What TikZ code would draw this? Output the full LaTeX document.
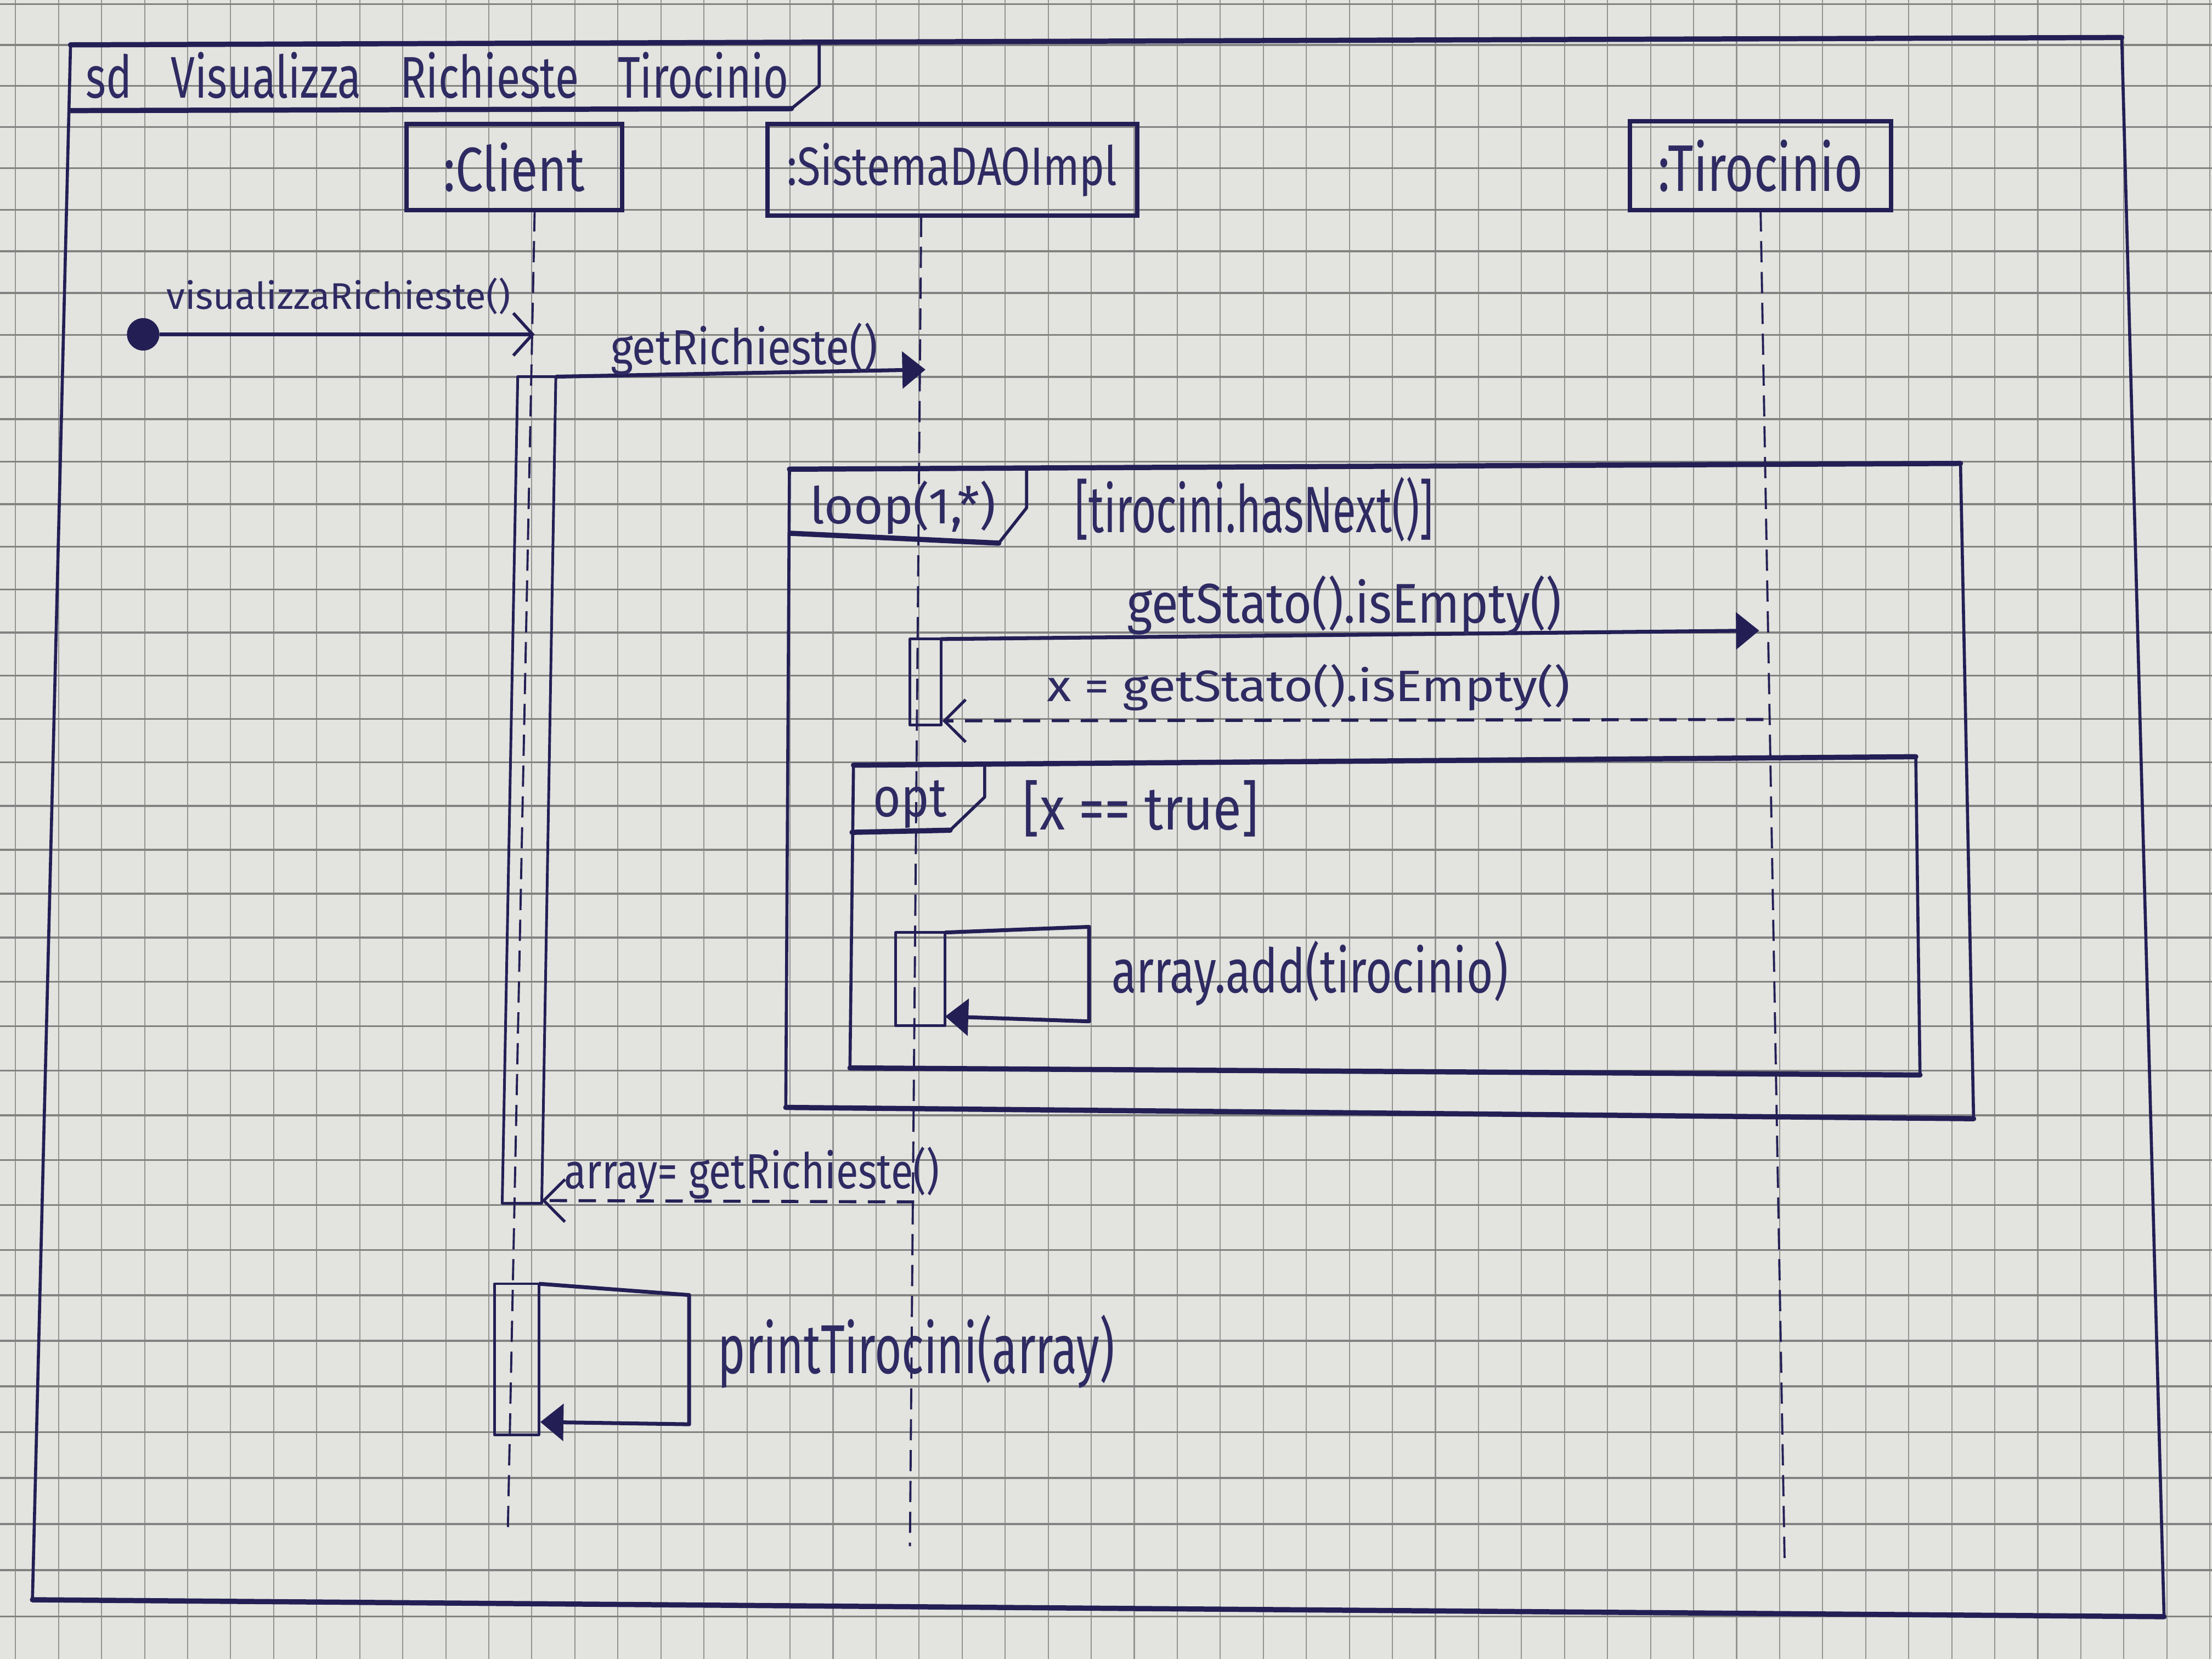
\documentclass[tikz,border=0pt]{standalone}
\usepackage{fontspec}
\setmainfont{Fira Sans}
\usepackage{graphicx}
\usetikzlibrary{arrows.meta}
\newlength\pxu \setlength\pxu{0.025714cm}
\newcommand\hw[3]{\resizebox*{#1\pxu}{#2\pxu}{#3}}
\definecolor{ink}{HTML}{231F55}
\definecolor{txt}{HTML}{2E2A62}
\definecolor{paper}{HTML}{E3E3DF}
\definecolor{gridh}{HTML}{828282}
\definecolor{gridv}{HTML}{939393}
\begin{document}
\begin{tikzpicture}[x=0.025714cm,y=-0.025714cm,
  gridhl/.style={draw=gridh,line width=1pt},
  gridvl/.style={draw=gridv,line width=0.6pt},
  hedge/.style={draw=ink,line width=2.7pt,line cap=round,line join=round},
  vedge/.style={draw=ink,line width=1.6pt,line cap=round,line join=round},
  head/.style={draw=ink,line width=2.3pt,rectangle,inner sep=0pt,text=txt},
  bar/.style={draw=ink,line width=1.4pt,line join=round},
  lifeline/.style={draw=ink,line width=1.1pt,dash pattern=on 11pt off 5pt},
  call/.style={draw=ink,line width=2pt,line join=round,-{Triangle[length=12pt,width=19pt]}},
  found/.style={draw=ink,line width=2pt,-{Straight Barb[length=10pt,width=22pt,line width=1.6pt]}},
  ret/.style={draw=ink,line width=1.6pt,dash pattern=on 9pt off 6pt,-{Straight Barb[length=11pt,width=22pt,line width=1.5pt]}},
  lbl/.style={inner sep=0pt,text=txt}]
\useasboundingbox (0,0) rectangle (1568,1176);
\fill[paper] (0,0) rectangle (1568,1176);
% grid paper
\foreach \i in {0,...,51} \draw[gridvl] ({11+30.5*\i},0) -- ({11+30.5*\i},1176);
\foreach \j in {0,...,38} \draw[gridhl] (0,{31.8+29*(\j-1)+0.054*(\j-1)*(\j-1)}) -- (1568,{31.8+29*(\j-1)+0.054*(\j-1)*(\j-1)});

% outer frame
\coordinate (fTL) at (50,31.8); \coordinate (fTR) at (1504,26.6);
\coordinate (fBR) at (1534,1146); \coordinate (fBL) at (23,1134);
\draw[hedge] (fTL) -- (fTR); \draw[hedge] (fBL) -- (fBR);
\draw[vedge] (fTR) -- (fBR); \draw[vedge] (fTL) -- (fBL);
% title tab
\coordinate (tA) at (580.7,30); \coordinate (tB) at (580.7,61);
\coordinate (tC) at (561,77); \coordinate (tD) at (50,78.4);
\draw[vedge] (tA) -- (tB) -- (tC);
\draw[hedge] (tC) -- (tD);
\node[lbl] (title) at (310,53.4) {\hw{498}{33}{sd\hspace{0.9em}Visualizza\hspace{0.9em}Richieste\hspace{0.9em}Tirocinio}};

% lifeline heads
\node[head,minimum width=153*\pxu,minimum height=61*\pxu] (client) at (364.5,118.5) {\hw{100}{35}{:Client}};
\node[head,minimum width=262*\pxu,minimum height=65*\pxu] (sistema) at (675,120.5) {\hw{234}{38}{:SistemaDAOImpl}};
\node[head,minimum width=185*\pxu,minimum height=63*\pxu] (tirocinio) at (1248,117.5) {\hw{145}{37}{:Tirocinio}};

% lifelines
\coordinate (clT) at (379,149); \coordinate (clB) at (360,1084);
\coordinate (sdT) at (653,153); \coordinate (sdB) at (645,1096);
\coordinate (tiT) at (1248,149); \coordinate (tiB) at (1265,1105);
\draw[lifeline] (clT) -- (clB);
\draw[lifeline] (sdT) -- (sdB);
\draw[lifeline] (tiT) -- (tiB);

% found message
\node[circle,fill=ink,inner sep=0pt,minimum size=23*\pxu] (start) at (101.5,237) {};
\coordinate (m1e) at (379,237);
\draw[found] (start) -- (m1e);
\node[lbl] (lblVis) at (240,210) {\hw{244}{26}{visualizzaRichieste()}};

% client activation 1
\coordinate (a1a) at (367,267); \coordinate (a1b) at (394,267);
\coordinate (a1c) at (384,853); \coordinate (a1d) at (356,853);
\draw[bar] (a1a) -- (a1b) -- (a1c) -- (a1d) -- cycle;

% getRichieste()
\coordinate (m2e) at (656,262);
\draw[call] (a1b) -- (m2e);
\node[lbl] (lblGet) at (527.5,247.5) {\hw{189}{37}{getRichieste()}};

% loop frame
\coordinate (lTL) at (559.6,332.6); \coordinate (lTR) at (1389.7,328.5);
\coordinate (lBR) at (1399,793); \coordinate (lBL) at (557,785);
\draw[hedge] (lTL) -- (lTR); \draw[hedge] (lBL) -- (lBR);
\draw[vedge] (lTR) -- (lBR); \draw[vedge] (lTL) -- (lBL);
\coordinate (lA) at (727.7,334); \coordinate (lB) at (727.7,360);
\coordinate (lC) at (708,385); \coordinate (lD) at (560,378);
\draw[vedge] (lA) -- (lB) -- (lC);
\draw[hedge] (lC) -- (lD);
\node[lbl] (lblLoop) at (640,360) {\hw{132}{38}{loop(1,*)}};
\node[lbl] (lblGuard) at (889,361) {\hw{254}{46}{[tirocini.hasNext()]}};

% sistema activation in loop
\coordinate (a2a) at (645,453); \coordinate (a2b) at (667,453);
\coordinate (a2c) at (667,514); \coordinate (a2d) at (645,514);
\draw[bar] (a2a) -- (a2b) -- (a2c) -- (a2d) -- cycle;

% getStato().isEmpty()
\coordinate (m3e) at (1247,447);
\draw[call] (a2b) -- (m3e);
\node[lbl] (lblStato) at (953,429) {\hw{308}{42}{getStato().isEmpty()}};
% return x
\coordinate (r1s) at (1250,510); \coordinate (r1e) at (668,511);
\draw[ret] (r1s) -- (r1e);
\node[lbl] (lblX) at (927.5,487.5) {\hw{371}{33}{x = getStato().isEmpty()}};

% opt frame
\coordinate (oTL) at (605,542.4); \coordinate (oTR) at (1358,536.4);
\coordinate (oBR) at (1361,762); \coordinate (oBL) at (602.5,757);
\draw[hedge] (oTL) -- (oTR); \draw[hedge] (oBL) -- (oBR);
\draw[vedge] (oTR) -- (oBR); \draw[vedge] (oTL) -- (oBL);
\coordinate (oA) at (698,544); \coordinate (oB) at (698,565);
\coordinate (oC) at (673.5,588.5); \coordinate (oD) at (604,590);
\draw[vedge] (oA) -- (oB) -- (oC);
\draw[hedge] (oC) -- (oD);
\node[lbl] (lblOpt) at (645,570) {\hw{52}{34}{opt}};
\node[lbl] (lblTrue) at (808.5,573) {\hw{167}{40}{[x == true]}};

% self call array.add
\coordinate (a3a) at (635,661); \coordinate (a3b) at (670,661);
\coordinate (a3c) at (670,727); \coordinate (a3d) at (635,727);
\draw[bar] (a3a) -- (a3b) -- (a3c) -- (a3d) -- cycle;
\coordinate (s1b) at (772,657); \coordinate (s1c) at (772,724);
\coordinate (s1d) at (670,720.5);
\draw[call] (a3b) -- (s1b) -- (s1c) -- (s1d);
\node[lbl] (lblAdd) at (928.5,690) {\hw{281}{46}{array.add(tirocinio)}};

% return array
\coordinate (r2s) at (648,852); \coordinate (r2e) at (384,851);
\draw[ret] (r2s) -- (r2e);
\node[lbl] (lblArr) at (533,831.5) {\hw{266}{37}{array= getRichieste()}};

% client activation 2 with self call
\coordinate (a4a) at (350.5,910); \coordinate (a4b) at (382,910);
\coordinate (a4c) at (382,1017); \coordinate (a4d) at (350.5,1017);
\draw[bar] (a4a) -- (a4b) -- (a4c) -- (a4d) -- cycle;
\coordinate (s2b) at (488.5,918); \coordinate (s2c) at (488.5,1009.6);
\coordinate (s2d) at (383,1008);
\draw[call] (a4b) -- (s2b) -- (s2c) -- (s2d);
\node[lbl] (lblPrint) at (649.5,958) {\hw{281}{52}{printTirocini(array)}};
\end{tikzpicture}
\end{document}
